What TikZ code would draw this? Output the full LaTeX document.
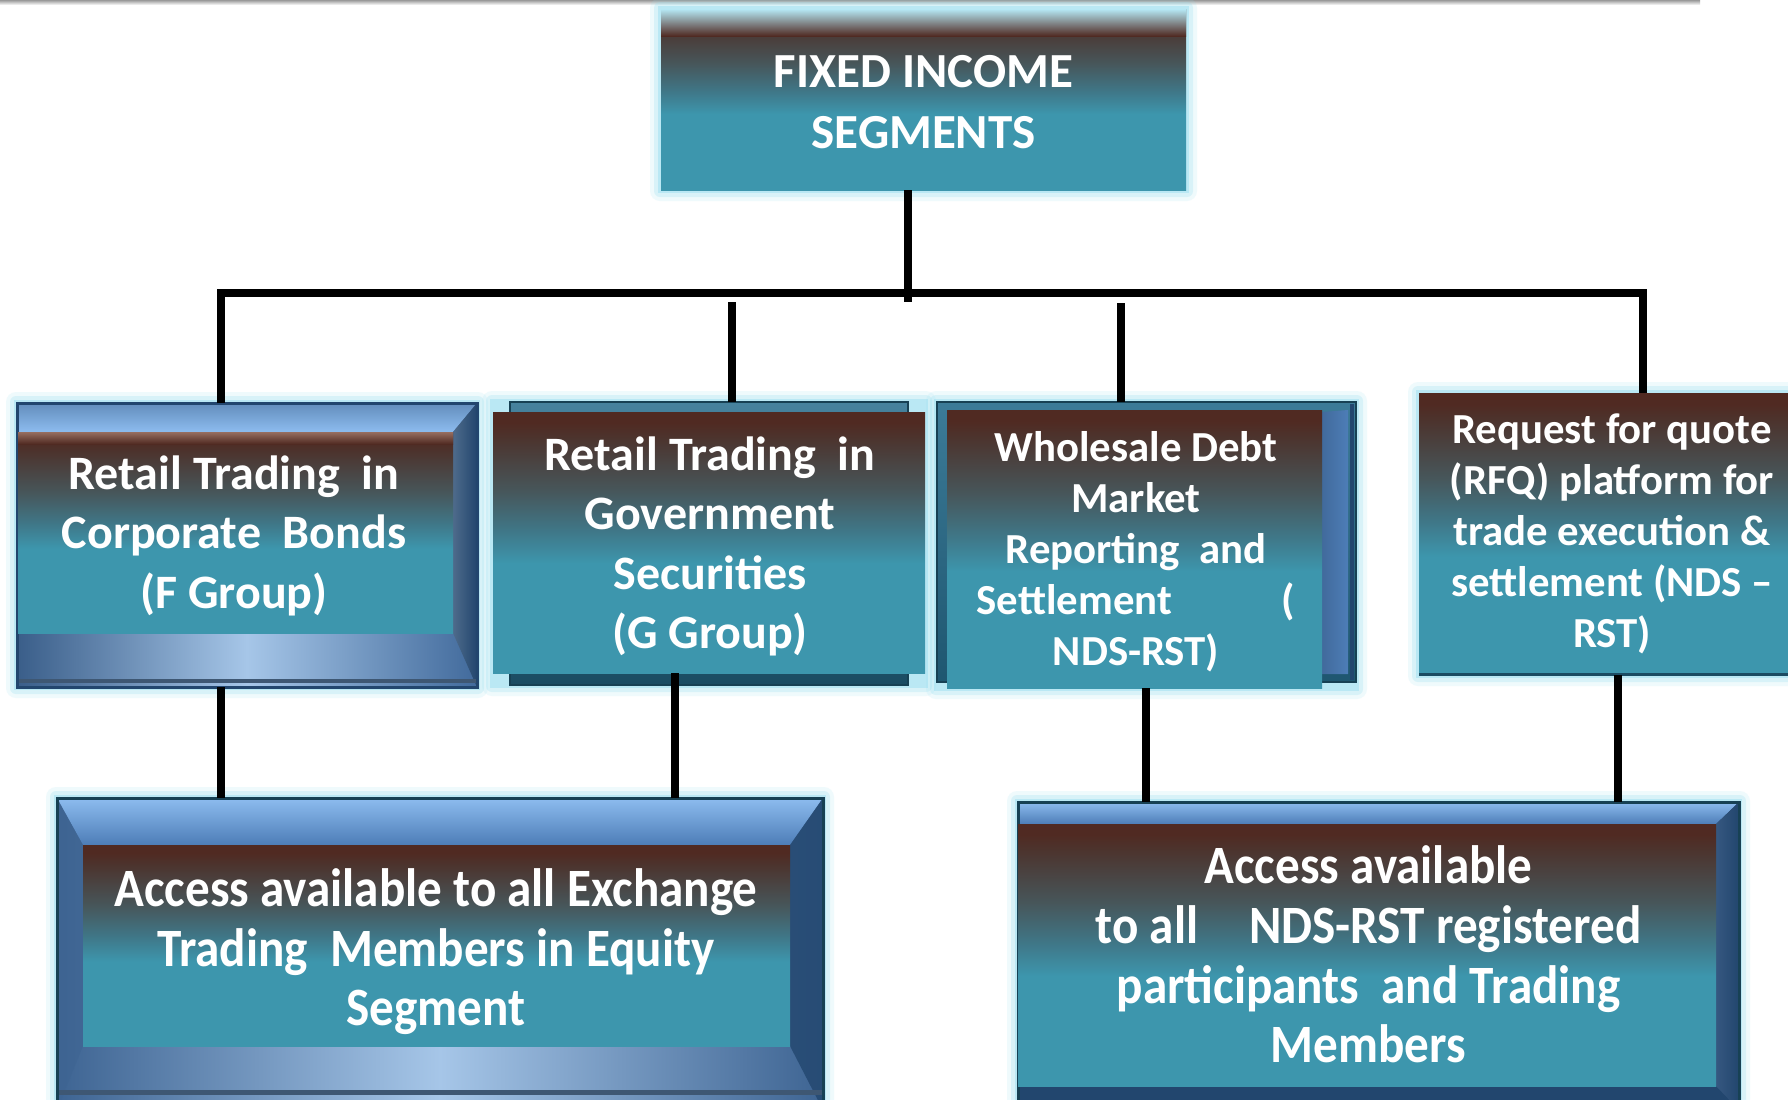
\documentclass[tikz,border=0pt]{standalone}
\usepackage{fontspec}
\setmainfont{Carlito}
\newfontfamily\condfont{Carlito}[FakeStretch=0.91]
\usetikzlibrary{calc}
\definecolor{fbrown}{RGB}{80,42,34}
\definecolor{fbrowntwo}{RGB}{76,52,46}
\definecolor{fgray}{RGB}{71,86,90}
\definecolor{fmid}{RGB}{63,120,137}
\definecolor{fteal}{RGB}{61,150,173}
\definecolor{glowc}{RGB}{150,222,240}
\definecolor{frdark}{RGB}{30,62,98}
\definecolor{frmid}{RGB}{62,106,160}
\definecolor{frlight}{RGB}{166,198,232}
\definecolor{frteal}{RGB}{38,108,140}
\definecolor{bvtop}{RGB}{141,188,239}
\definecolor{bvmid}{RGB}{77,125,183}
\definecolor{bvdark}{RGB}{34,70,110}
\definecolor{facetop}{RGB}{150,110,96}
\pgfdeclareverticalshading{faceshade}{100bp}{color(0bp)=(fteal); color(25bp)=(fteal); color(46bp)=(fteal); color(52bp)=(fmid); color(60bp)=(fgray); color(70bp)=(fbrowntwo); color(73bp)=(fbrown); color(100bp)=(fbrown)}
\newcommand\glowbox[2]{%
  \fill[glowc,opacity=.15,rounded corners=5pt] ($#1+(-11,-11)$) rectangle ($#2+(11,11)$);
  \fill[glowc,opacity=.25,rounded corners=3pt] ($#1+(-7,-7)$) rectangle ($#2+(7,7)$);
  \fill[glowc,opacity=.45] ($#1+(-3,-3)$) rectangle ($#2+(3,3)$);}
\begin{document}
\begin{tikzpicture}[x=0.5pt,y=-0.5pt,
  face/.style={shade,shading=faceshade,rectangle,inner sep=0pt,outer sep=0pt},
  boxframe/.style={rectangle,inner sep=0pt,outer sep=0pt},
  sz/.style 2 args={minimum width=#1*0.5pt,minimum height=#2*0.5pt},
  txt/.style={text=white,align=center,inner sep=0pt},
  fbig/.style={font=\bfseries\fontsize{24.5}{30.5}\selectfont},
  fmidsz/.style={font=\bfseries\fontsize{24}{29.75}\selectfont},
  fsmall/.style={font=\bfseries\fontsize{21.4}{25.5}\selectfont},
  fcond/.style={font=\condfont\bfseries\fontsize{27}{29.8}\selectfont},
  conn/.style={line width=4pt,black}]
\useasboundingbox (0,0) rectangle (1788,1099);
\clip (0,0) rectangle (1788,1099);
\fill[white] (0,0) rectangle (1788,1099);
\shade[top color=black!40,bottom color=white] (0,0) rectangle (1700,5);

% ---------- top box
\glowbox{(661,9)}{(1186,190)}
\node[face,sz={525}{181}] (top) at (923.5,99.5) {};
\shade[top color=glowc!70!white,bottom color=fbrown] (661,9) rectangle (1186,36);
\node[txt,fbig] (toptext) at (923.5,102) {FIXED INCOME\\SEGMENTS};

% ---------- box 1
\glowbox{(17,403)}{(477,687)}
\node[boxframe,sz={460}{284},left color=bvmid!75!black,right color=bvmid!85!black,middle color=frlight] (b1frame) at (247,545) {};
\shade[top color=bvtop!60!bvdark,bottom color=bvtop] (17,403) -- (477,403) -- (453,432) -- (18,432) -- cycle;
\shade[left color=bvdark!80!white,right color=bvdark] (453,432) -- (477,403) -- (477,687) -- (453,633) -- cycle;
\draw[bvdark!70!gray,line width=2pt] (17,681) -- (477,681);
\draw[bvdark,line width=1.5pt] (17,403) rectangle (477,687);
\node[face,sz={435}{201}] (b1) at (235.5,532.5) {};
\shade[top color=facetop,bottom color=fbrown] (18,432) rectangle (453,444);
\node[txt,fmidsz] (b1text) at (234,535.5) {Retail Trading~ in\\Corporate~ Bonds\\(F Group)};

% ---------- box 2
\glowbox{(493,402)}{(925,685)}
\node[boxframe,sz={398}{283},top color=frteal!85!white,bottom color=frteal!70!black,draw=frteal!60!black,line width=1pt] (b2frame) at (709,543.5) {};
\node[face,sz={432}{261}] (b2) at (709,542.5) {};
\node[txt,fmidsz] (b2text) at (710,546.5) {Retail Trading~ in\\Government\\Securities\\(G Group)};

% ---------- box 3
\glowbox{(937,402)}{(1356,688)}
\node[boxframe,sz={419}{280},top color=frteal!90!white,bottom color=frteal!80!black,draw=frteal!60!black,line width=1pt] (b3frame) at (1146.5,542) {};
\shade[left color=bvmid!85!black,right color=bvmid] (1322,412) -- (1348,410) -- (1348,674) -- (1322,674) -- cycle;
\draw[bvdark,line width=2pt] (1352,404) -- (1352,680);
\node[face,sz={375}{278}] (b3) at (1134.5,549) {};
\node[txt,fsmall] (b3text) at (1136,551.5) {Wholesale Debt\\Market\\Reporting~ and\\Settlement\hspace{55pt}(\\NDS-RST)};

% ---------- box 4
\glowbox{(1419,393)}{(1800,675)}
\node[face,sz={381}{282}] (b4) at (1609.5,534) {};
\draw[frteal!70!black,line width=1.5pt] (1419,674) -- (1800,674);
\node[txt,fsmall] (b4text) at (1612,533.5) {Request for quote\\(RFQ) platform for\\trade execution \&\\settlement (NDS –\\RST)};

% ---------- bottom left
\glowbox{(57,798)}{(823,1110)}
\node[boxframe,sz={766}{312},left color=bvmid!80!black,right color=bvmid!80!black,middle color=frlight] (blframe) at (440,954) {};
\shade[top color=bvtop,bottom color=bvmid] (57,798) -- (823,798) -- (790,845) -- (83,845) -- cycle;
\fill[bvmid!80!black,opacity=.6] (57,798) -- (83,845) -- (83,1046) -- (57,1110) -- cycle;
\fill[bvdark,opacity=.8] (823,798) -- (790,845) -- (790,1046) -- (823,1110) -- cycle;
\draw[bvdark!70!gray,line width=2.5pt] (57,1092) -- (823,1092);
\draw[frteal!60!black,line width=1.5pt] (57,798) rectangle (823,1110);
\node[face,sz={707}{201}] (bl) at (436.5,945.5) {};
\node[txt,fcond] (bltext) at (436,952) {Access available to all Exchange\\Trading~ Members in Equity\\Segment};

% ---------- bottom right
\glowbox{(1018,802)}{(1739,1110)}
\node[boxframe,sz={721}{308},fill=bvdark] (brframe) at (1378.5,956) {};
\shade[top color=bvtop,bottom color=bvmid] (1018,802) -- (1739,802) -- (1716,824) -- (1018,824) -- cycle;
\shade[left color=bvmid!70!black,right color=bvdark] (1716,824) -- (1739,802) -- (1739,1110) -- (1716,1086) -- cycle;
\draw[frteal!60!black,line width=1.5pt] (1018,802) rectangle (1739,1110);
\node[face,sz={698}{262}] (br) at (1367,955) {};
\node[txt,fcond] (brtext) at (1368.5,954.5) {Access available\\to all\hspace{20pt} NDS-RST registered\\participants~ and Trading\\Members};

% ---------- connectors
\coordinate (stem) at (908,302);
\coordinate (busL) at (221,293);
\coordinate (busR) at (1643,293);
\coordinate (d2) at (732,302);
\coordinate (d3) at (1121,303);
\coordinate (e1) at (221,740);
\coordinate (e2) at (675,740);
\coordinate (e3) at (1146,740);
\coordinate (e4) at (1618,740);
\draw[conn] (top.south -| stem) -- (stem);
\draw[conn] (busL |- b1frame.north) -- (busL) -- (busR) -- (busR |- b4.north);
\draw[conn] (d2) -- (d2 |- b2frame.north);
\draw[conn] (d3) -- (d3 |- b3frame.north);
\draw[conn] (b1frame.south -| e1) -- (blframe.north -| e1);
\draw[conn] (b2.south -| e2) -- (blframe.north -| e2);
\draw[conn] (b3.south -| e3) -- (brframe.north -| e3);
\draw[conn] (b4.south -| e4) -- (brframe.north -| e4);
\end{tikzpicture}
\end{document}
